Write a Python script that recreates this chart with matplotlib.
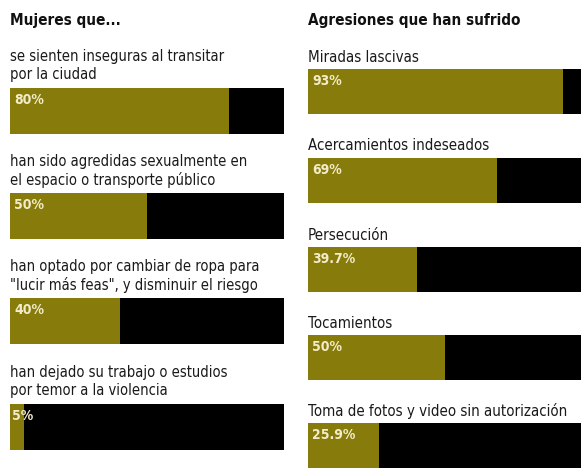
import matplotlib
matplotlib.use("Agg")
import matplotlib.pyplot as plt

# data
left_title = "Mujeres que..."
left_labels = [
    "se sienten inseguras al transitar\npor la ciudad",
    "han sido agredidas sexualmente en\nel espacio o transporte público",
    "han optado por cambiar de ropa para\n\"lucir más feas\", y disminuir el riesgo",
    "han dejado su trabajo o estudios\npor temor a la violencia",
]
left_values = [80, 50, 40, 5]
left_texts = ["80%", "50%", "40%", "5%"]

right_title = "Agresiones que han sufrido"
right_labels = [
    "Miradas lascivas",
    "Acercamientos indeseados",
    "Persecución",
    "Tocamientos",
    "Toma de fotos y video sin autorización",
]
right_values = [93, 69, 39.7, 50, 25.9]
right_texts = ["93%", "69%", "39.7%", "50%", "25.9%"]

gold = "#877b0c"
cream = "#f3ecc8"

plt.rcParams['font.family'] = ['DejaVu Sans']
plt.rcParams['font.stretch'] = 'condensed'

W, H = 581, 468
fig = plt.figure(figsize=(W / 100, H / 100), dpi=100)
fig.patch.set_facecolor("white")


def px(x, y):
    # pixel coords (top-left origin) -> figure fraction
    return x / W, 1 - y / H


def bar(x0, top, width, height, value, text):
    ax = fig.add_axes([x0 / W, 1 - (top + height) / H, width / W, height / H])
    ax.barh([0], [value], height=1, color=gold, left=0)
    ax.barh([0], [100 - value], height=1, color="black", left=value)
    ax.set_xlim(0, 100)
    ax.set_ylim(-0.5, 0.5)
    ax.axis("off")
    ax.text(1.6 if value > 10 else 0.6, 0.23, text, color=cream, fontsize=10,
            fontweight="bold", va="center", ha="left", fontstretch="condensed")


# left column
fig.text(*px(10, 20), left_title, fontsize=11, fontweight="bold", va="center", ha="left",
         fontstretch="condensed", color="#111111")
left_tops = [88, 193, 298, 404]
for lab, v, t, top in zip(left_labels, left_values, left_texts, left_tops):
    fig.text(*px(10, top - 22), lab, fontsize=10.5, va="center", ha="left",
             linespacing=1.25, color="#1a1a1a", fontstretch="condensed")
    bar(10, top, 274, 46, v, t)

# right column
fig.text(*px(308, 20), right_title, fontsize=11, fontweight="bold", va="center", ha="left",
         fontstretch="condensed", color="#111111")
right_tops = [69, 158, 247, 335, 423]
for lab, v, t, top in zip(right_labels, right_values, right_texts, right_tops):
    fig.text(*px(308, top - 12), lab, fontsize=10.8, va="center", ha="left", color="#1a1a1a",
             fontstretch="condensed")
    bar(308, top, 274, 45, v, t)

fig.savefig("out.png", dpi=100)
